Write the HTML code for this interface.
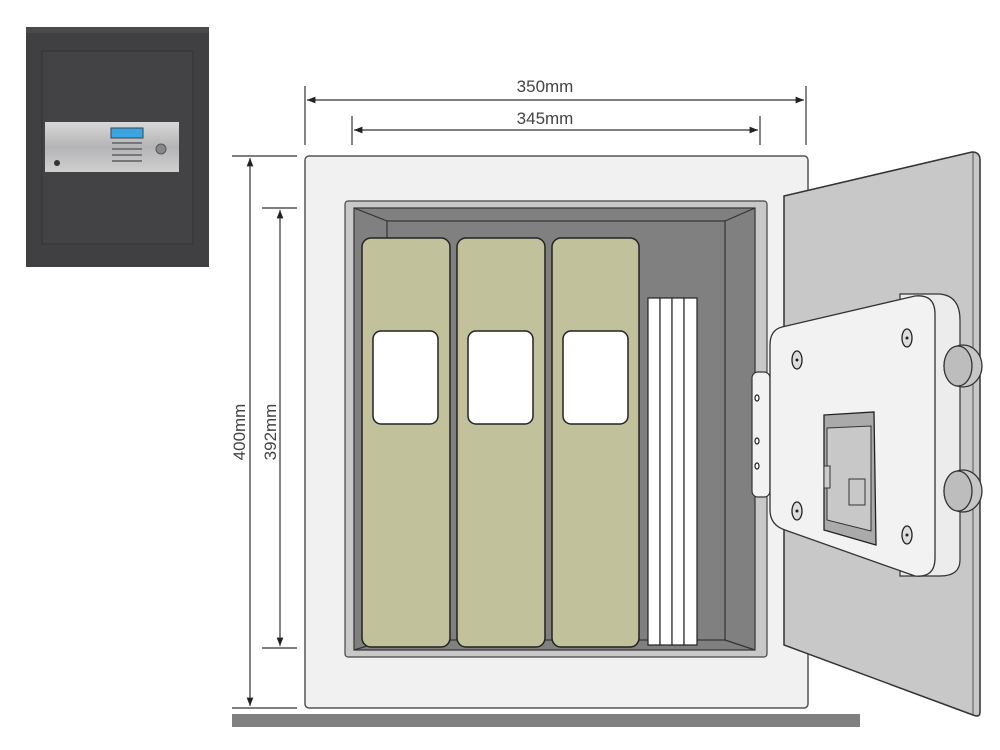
<!DOCTYPE html>
<html><head><meta charset="utf-8"><style>
html,body{margin:0;padding:0;background:#fff;width:1000px;height:750px;overflow:hidden}
svg{display:block}
text{font-family:"Liberation Sans",sans-serif;fill:#444;font-size:17px}
</style></head><body>
<svg width="1000" height="750" viewBox="0 0 1000 750" xmlns="http://www.w3.org/2000/svg">
<defs>
<linearGradient id="st" x1="0" y1="0" x2="0" y2="1"><stop offset="0" stop-color="#d8d8d8"/><stop offset=".5" stop-color="#b4b4b6"/><stop offset="1" stop-color="#cfcfcf"/></linearGradient>
<marker id="a" viewBox="0 0 10 10" refX="10" refY="5" markerWidth="7" markerHeight="7" orient="auto-start-reverse"><path d="M0,1 L10,5 L0,9 Z" fill="#222"/></marker>
</defs>
<!-- thumbnail safe -->
<rect x="26" y="27" width="183" height="240" fill="#404042"/>
<rect x="26" y="27" width="183" height="6" fill="#4a4a4c"/>
<rect x="42" y="51" width="151" height="193" fill="#434345" stroke="#333" stroke-width="1"/>
<rect x="45" y="122" width="134" height="50" fill="url(#st)"/>
<rect x="111" y="128" width="32" height="10" fill="#3aa6e0" stroke="#345" stroke-width="1"/>
<g fill="#777"><rect x="112" y="142" width="30" height="2"/><rect x="112" y="148" width="30" height="2"/><rect x="112" y="154" width="30" height="2"/><rect x="112" y="160" width="30" height="2"/></g>
<circle cx="161" cy="149" r="5" fill="#888" stroke="#555"/>
<circle cx="57" cy="163" r="3" fill="#333"/>
<!-- dimension lines -->
<g stroke="#333" stroke-width="1.2" fill="none">
<line x1="305" y1="86" x2="305" y2="145"/><line x1="806" y1="86" x2="806" y2="145"/>
<line x1="307" y1="100" x2="804" y2="100" marker-start="url(#a)" marker-end="url(#a)"/>
<line x1="352" y1="116" x2="352" y2="145"/><line x1="760" y1="116" x2="760" y2="145"/>
<line x1="354" y1="130" x2="758" y2="130" marker-start="url(#a)" marker-end="url(#a)"/>
<line x1="232" y1="156" x2="297" y2="156"/><line x1="232" y1="708" x2="297" y2="708"/>
<line x1="250" y1="158" x2="250" y2="706" marker-start="url(#a)" marker-end="url(#a)"/>
<line x1="262" y1="208" x2="297" y2="208"/><line x1="262" y1="648" x2="297" y2="648"/>
<line x1="280" y1="210" x2="280" y2="646" marker-start="url(#a)" marker-end="url(#a)"/>
</g>
<text x="545" y="92" text-anchor="middle">350mm</text>
<text x="545" y="124" text-anchor="middle">345mm</text>
<text transform="translate(245,432) rotate(-90)" text-anchor="middle">400mm</text>
<text transform="translate(276,432) rotate(-90)" text-anchor="middle">392mm</text>
<!-- floor -->
<rect x="232" y="714" width="628" height="13" fill="#808080"/>
<!-- body -->
<rect x="305" y="156" width="503" height="552" rx="4" fill="#f1f1f1" stroke="#555" stroke-width="1.5"/>
<rect x="345" y="201" width="422" height="456" rx="3" fill="#c8c8c8" stroke="#444" stroke-width="1.2"/>
<rect x="354" y="208" width="401" height="442" fill="#808080" stroke="#333" stroke-width="1.2"/>
<g stroke="#333" stroke-width="1.2" fill="none">
<rect x="387" y="221" width="338" height="419"/>
<line x1="354" y1="208" x2="387" y2="221"/><line x1="755" y1="208" x2="725" y2="221"/>
<line x1="354" y1="650" x2="387" y2="640"/><line x1="755" y1="650" x2="725" y2="640"/>
</g>
<!-- files -->
<g fill="#c1c19c" stroke="#222" stroke-width="1.5">
<rect x="362" y="238" width="88" height="409" rx="9"/>
<rect x="457" y="238" width="88" height="409" rx="9"/>
<rect x="552" y="238" width="87" height="409" rx="9"/>
</g>
<g fill="#fff" stroke="#222" stroke-width="1.5">
<rect x="373" y="331" width="65" height="93" rx="8"/>
<rect x="468" y="331" width="65" height="93" rx="8"/>
<rect x="563" y="331" width="65" height="93" rx="8"/>
</g>
<g fill="#fff" stroke="#222" stroke-width="1.2">
<rect x="648" y="298" width="12" height="347"/><rect x="660" y="298" width="12" height="347"/>
<rect x="672" y="298" width="12" height="347"/><rect x="684" y="298" width="13" height="347"/>
</g>
<!-- door -->
<path d="M784,196 L972,152 Q980,152 980,160 L980,712 Q980,718 973,715 L784,645 Z" fill="#c8c8c8" stroke="#333" stroke-width="1.5"/>
<line x1="973" y1="153" x2="973" y2="714" stroke="#555" stroke-width="1"/>
<!-- hinge strip -->
<rect x="752" y="372" width="18" height="125" rx="6" fill="#f2f2f2" stroke="#333" stroke-width="1.2"/>
<g fill="#fff" stroke="#222" stroke-width="1.2"><ellipse cx="757" cy="398" rx="2" ry="3"/><ellipse cx="757" cy="441" rx="2" ry="3"/><ellipse cx="757" cy="466" rx="2" ry="3"/></g>
<!-- plate side -->
<path d="M900,294 L940,294 Q960,296 960,320 L960,560 Q960,576 940,576 L900,576 Z" fill="#ececec" stroke="#333" stroke-width="1.2"/>
<!-- bolts -->
<g stroke="#333" stroke-width="1.3">
<ellipse cx="963" cy="366" rx="19" ry="21" fill="#c6c6c6"/><ellipse cx="958" cy="366" rx="14" ry="20" fill="#bdbdbd"/>
<ellipse cx="963" cy="491" rx="19" ry="21" fill="#c6c6c6"/><ellipse cx="958" cy="491" rx="14" ry="20" fill="#bdbdbd"/>
</g>
<!-- plate front -->
<path d="M782,327 L915,296 Q935,294 935,314 L935,558 Q935,578 915,576 L785,530 Q770,525 770,510 L770,345 Q770,330 782,327 Z" fill="#f2f2f2" stroke="#333" stroke-width="1.3"/>
<g fill="#ddd" stroke="#222" stroke-width="1.3">
<ellipse cx="797" cy="360" rx="5" ry="9"/><ellipse cx="907" cy="338" rx="5" ry="9"/>
<ellipse cx="797" cy="511" rx="5" ry="9"/><ellipse cx="907" cy="535" rx="5" ry="9"/>
</g>
<g fill="#222"><circle cx="797" cy="360" r="1.5"/><circle cx="907" cy="338" r="1.5"/><circle cx="797" cy="511" r="1.5"/><circle cx="907" cy="535" r="1.5"/></g>
<!-- keypad -->
<path d="M824,415 L874,412 L876,545 L824,530 Z" fill="#aaa" stroke="#222" stroke-width="1.3"/>
<path d="M827,428 L871,426 L871,531 L827,520 Z" fill="#c8c8c8" stroke="#333" stroke-width="1"/>
<rect x="824" y="466" width="6" height="22" fill="#ccc" stroke="#333"/>
<rect x="849" y="479" width="16" height="26" fill="#c8c8c8" stroke="#333"/>
</svg>
</body></html>
